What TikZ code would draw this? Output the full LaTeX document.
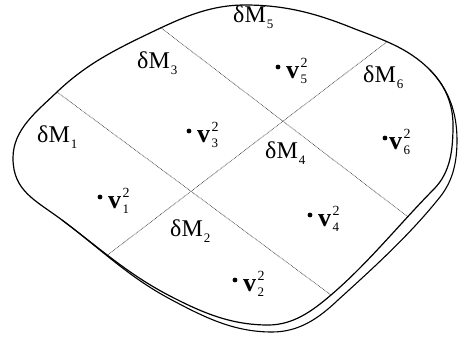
\documentclass[tikz,border=0pt]{standalone}
\usepackage{fontspec}
\setmainfont{Liberation Serif}
\newcommand{\dMlab}[1]{δM\kern1pt\raisebox{-6pt}{\fontsize{13}{13}\selectfont #1}}
\newcommand{\vlab}[1]{\textbf{v}\kern1.5pt\rlap{\raisebox{10.5pt}{\fontsize{14}{14}\selectfont 2}}\raisebox{-5.5pt}{\fontsize{13}{13}\selectfont #1}}
\begin{document}
\begin{tikzpicture}[x=1pt,y=-1pt,
  lab/.style={font=\fontsize{24}{28}\selectfont, anchor=base west, inner sep=0pt},
  vl/.style={font=\fontsize{26}{28}\selectfont, anchor=base west, inner sep=0pt},
  dot/.style={circle, fill=black, inner sep=0pt, minimum size=4.8pt},
  border/.style={line width=1.2pt, line join=round},
  divider/.style={line width=0.6pt, dash pattern=on 0.8pt off 0.8pt, black!80}]
\useasboundingbox (0,0) rectangle (458,338);
\def\mainpath{(13,158) .. controls (13,129.5) and (36.5,111.7) .. (57,92)
 .. controls (85.6,64.6) and (114.3,50.1) .. (150,33)
 .. controls (182,17.7) and (209.4,5) .. (245,5)
 .. controls (283.6,5) and (314.1,12.7) .. (350,27)
 .. controls (380.4,39.1) and (407.1,46.8) .. (430,70)
 .. controls (445,85.3) and (453,103.5) .. (453,125)
 .. controls (453,149) and (450.8,172) .. (434,189)
 .. controls (399.8,223.6) and (368.1,263.3) .. (331,295)
 .. controls (312,311.3) and (293,325) .. (268,325)
 .. controls (231.3,325) and (202.7,312.9) .. (170,296)
 .. controls (127.7,274.1) and (100,248.5) .. (62,220)
 .. controls (35.4,200.1) and (13,191.2) .. cycle}
% dividers clipped to the region
\begin{scope}
  \clip \mainpath;
  \coordinate (a1) at (30,72);  \coordinate (a2) at (358,315);
  \coordinate (c1) at (139,11); \coordinate (c2) at (429,233);
  \coordinate (b1) at (80,276); \coordinate (b2) at (413,22);
  \draw[divider] (a1) -- (a2);
  \draw[divider] (c1) -- (c2);
  \draw[divider] (b1) -- (b2);
\end{scope}
\draw[border] \mainpath;
\draw[border, line width=1.1pt] (62,220) .. controls (100.4,248.8) and (127.8,276.4) .. (170,299)
 .. controls (204,317.1) and (233.4,332) .. (272,332)
 .. controls (299.2,332) and (318.9,318.2) .. (338,300)
 .. controls (373.7,267.6) and (410,234.7) .. (440,197)
 .. controls (453.3,180.3) and (457,161.4) .. (457,140)
 .. controls (457,113) and (448.9,89.2) .. (430,70);
% labels
\node[lab] (m5) at (233,22) {\dMlab{5}};
\node[lab] (m3) at (137,68) {\dMlab{3}};
\node[lab] (m1) at (37,142) {\dMlab{1}};
\node[lab] (m6) at (363,82) {\dMlab{6}};
\node[lab] (m4) at (265,158) {\dMlab{4}};
\node[lab] (m2) at (170,236) {\dMlab{2}};
% points
\node[dot] (p3) at (189,131) {};
\node[vl] (v3) at (197,142) {\vlab{3}};
\node[dot] (p5) at (278,67) {};
\node[vl] (v5) at (286,78) {\vlab{5}};
\node[dot] (p6) at (385,138) {};
\node[vl] (v6) at (389,149) {\vlab{6}};
\node[dot] (p1) at (100,197) {};
\node[vl] (v1) at (108,208) {\vlab{1}};
\node[dot] (p4) at (310,215) {};
\node[vl] (v4) at (318,226) {\vlab{4}};
\node[dot] (p2) at (235,280) {};
\node[vl] (v2) at (243,291) {\vlab{2}};
\end{tikzpicture}
\end{document}
